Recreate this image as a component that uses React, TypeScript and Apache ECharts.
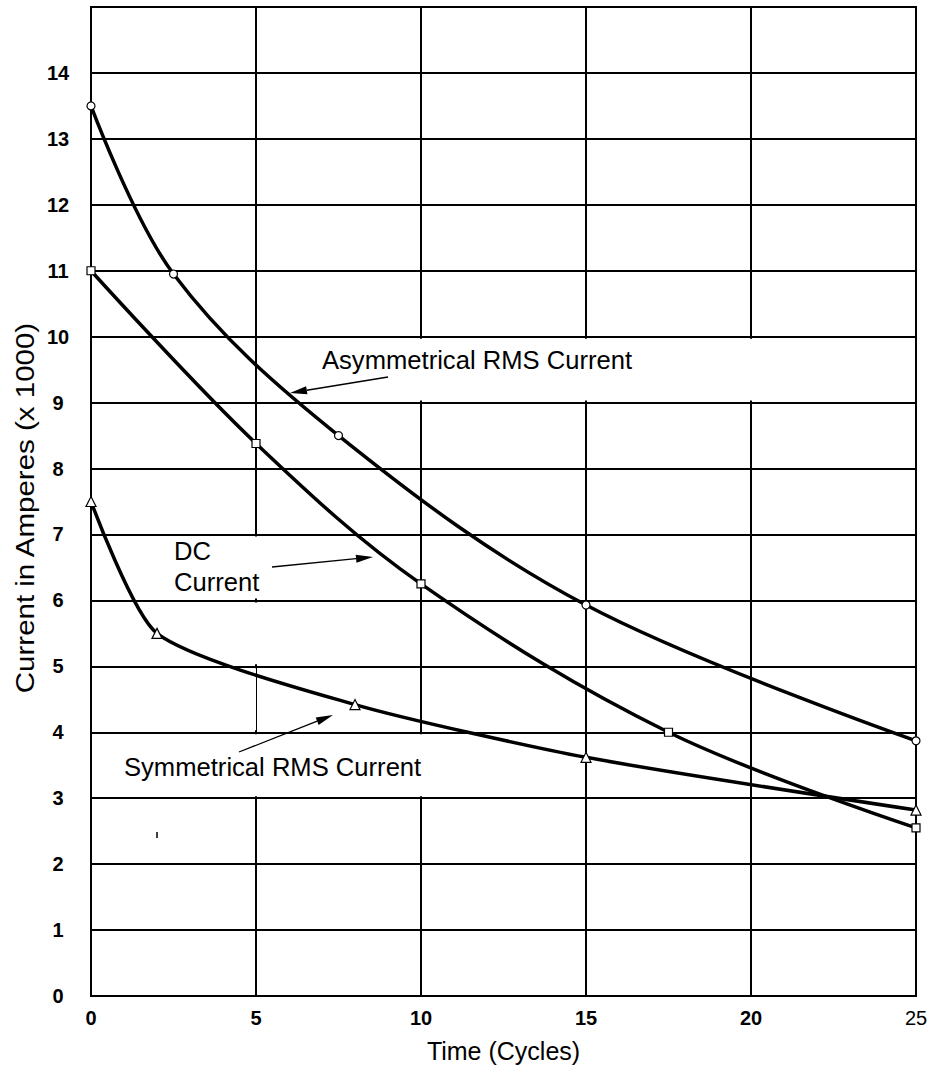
import React, { useEffect, useRef } from "react";
import * as echarts from "echarts";

// ---- data ----
const asymX = [0, 2.5, 7.5, 15, 25];
const asymY = [13.5, 10.95, 8.5, 5.93, 3.87];
const dcX = [0, 5, 10, 17.5, 25];
const dcY = [11, 8.38, 6.25, 4.0, 2.55];
const symX = [0, 2, 8, 15, 25];
const symY = [7.5, 5.5, 4.42, 3.62, 2.82];
const xTickLabels = ["0", "5", "10", "15", "20", "25"];
const yTickLabels = ["0", "1", "2", "3", "4", "5", "6", "7", "8", "9", "10", "11", "12", "13", "14"];
const asymName = "Asymmetrical RMS Current";
const dcName = ["DC", "Current"];
const symName = "Symmetrical RMS Current";
const xTitle = "Time (Cycles)";
const yTitle = "Current in Amperes (x 1000)";

const FONT = '"Liberation Sans", Arial, Helvetica, sans-serif';

const zip = (xs: number[], ys: number[]) => xs.map((x, i) => [x, ys[i]]);

function arrow(x1: number, y1: number, x2: number, y2: number, head = 17, half = 4) {
  const dx = x2 - x1;
  const dy = y2 - y1;
  const len = Math.sqrt(dx * dx + dy * dy);
  const ux = dx / len;
  const uy = dy / len;
  const bx = x2 - ux * head;
  const by = y2 - uy * head;
  const px = -uy;
  const py = ux;
  return [
    {
      type: "line",
      z: 100,
      shape: { x1, y1, x2: bx, y2: by },
      style: { stroke: "#000", lineWidth: 1.3 },
    },
    {
      type: "polygon",
      z: 100,
      shape: {
        points: [
          [x2, y2],
          [bx + px * half, by + py * half],
          [bx - px * half, by - py * half],
        ],
      },
      style: { fill: "#000" },
    },
  ];
}

function label(text: string, x: number, y: number) {
  return {
    type: "text",
    z: 100,
    x,
    y,
    style: {
      text,
      font: `25.6px ${FONT}`,
      fill: "#000",
      align: "left",
      verticalAlign: "middle",
    },
  };
}

export default function App() {
  const ref = useRef<HTMLDivElement>(null);

  useEffect(() => {
    document.body.style.margin = "0";
    if (!ref.current) return;
    const chart = echarts.init(ref.current, undefined, { renderer: "svg" });

    const lineCommon = {
      type: "line",
      z: 3,
      lineStyle: { color: "#000", width: 3.5 },
      itemStyle: { color: "#fff", borderColor: "#000", borderWidth: 1.2 },
      showSymbol: true,
    };

    const option: any = {
      animation: false,
      backgroundColor: "#fff",
      textStyle: { fontFamily: FONT },
      grid: {
        left: 91,
        right: 16,
        top: 7,
        bottom: 72,
        show: true,
        borderColor: "#000",
        borderWidth: 2,
        backgroundColor: "transparent",
      },
      xAxis: {
        type: "value",
        min: 0,
        max: 25,
        interval: 5,
        name: xTitle,
        nameLocation: "middle",
        nameGap: 42,
        nameTextStyle: { fontSize: 25, color: "#000", fontFamily: FONT },
        axisLine: { show: false },
        axisTick: { show: false },
        splitLine: { show: true, lineStyle: { color: "#000", width: 2 } },
        axisLabel: {
          margin: 12,
          color: "#000",
          formatter: (v: number) => {
            const i = Math.round(v / 5);
            const t = xTickLabels[i] ?? "";
            return i === xTickLabels.length - 1 ? `{n|${t}}` : `{b|${t}}`;
          },
          rich: {
            b: { fontSize: 20, fontWeight: "bold", color: "#000", fontFamily: FONT },
            n: { fontSize: 20, fontWeight: "normal", color: "#000", fontFamily: FONT },
          },
        },
      },
      yAxis: {
        type: "value",
        min: 0,
        max: 15,
        interval: 1,
        axisLine: { show: false },
        axisTick: { show: false },
        splitLine: { show: true, lineStyle: { color: "#000", width: 2 } },
        axisLabel: {
          margin: 33,
          align: "center",
          fontSize: 20,
          fontWeight: "bold",
          color: "#000",
          fontFamily: FONT,
          formatter: (v: number) => yTickLabels[Math.round(v)] ?? "",
        },
      },
      series: [
        {
          type: "line",
          data: [[0, 0]],
          symbol: "none",
          lineStyle: { opacity: 0 },
          silent: true,
          z: 1,
          markArea: {
            silent: true,
            itemStyle: { color: "#fff", borderWidth: 0 },
            label: { show: false },
            data: [
              [{ coord: [5.5, 9.03] }, { coord: [24.5, 9.97] }],
              [{ coord: [0.5, 3.03] }, { coord: [12, 3.97] }],
              [{ coord: [2.2, 6.03] }, { coord: [6, 6.97] }],
              [{ coord: [4.5, 5.03] }, { coord: [5.5, 5.97] }],
              [{ coord: [4.7, 4.03] }, { coord: [5.3, 4.97] }],
            ],
          },
          markLine: {
            silent: true,
            symbol: "none",
            label: { show: false },
            lineStyle: { color: "#000", width: 1, type: "solid" },
            data: [[{ coord: [5, 4] }, { coord: [5, 5] }]],
          },
        },
        {
          ...lineCommon,
          name: asymName,
          data: zip(asymX, asymY),
          smooth: 0.35,
          symbol: "circle",
          symbolSize: 8,
        },
        {
          ...lineCommon,
          name: "DC Current",
          data: zip(dcX, dcY),
          smooth: 0.35,
          symbol: "rect",
          symbolSize: 8,
        },
        {
          ...lineCommon,
          name: symName,
          data: zip(symX, symY),
          smooth: 0.22,
          symbol: "triangle",
          symbolSize: 10,
        },
      ],
      graphic: [
        {
          type: "text",
          z: 100,
          x: 25,
          y: 508,
          rotation: Math.PI / 2,
          scaleX: 1.18,
          style: {
            text: yTitle,
            font: `25px ${FONT}`,
            fill: "#000",
            align: "center",
            verticalAlign: "middle",
          },
        },
        label(asymName, 322, 360),
        ...arrow(388, 377, 290, 393),
        label(dcName[0], 174, 551),
        label(dcName[1], 174, 582),
        ...arrow(272, 567, 373, 557),
        label(symName, 124, 767),
        ...arrow(239, 752, 333, 715),
        {
          type: "line",
          z: 100,
          shape: { x1: 157, y1: 832, x2: 157, y2: 838 },
          style: { stroke: "#000", lineWidth: 1.5 },
        },
      ],
    };

    chart.setOption(option);
    return () => chart.dispose();
  }, []);

  return <div ref={ref} style={{ width: 932, height: 1068 }} />;
}
